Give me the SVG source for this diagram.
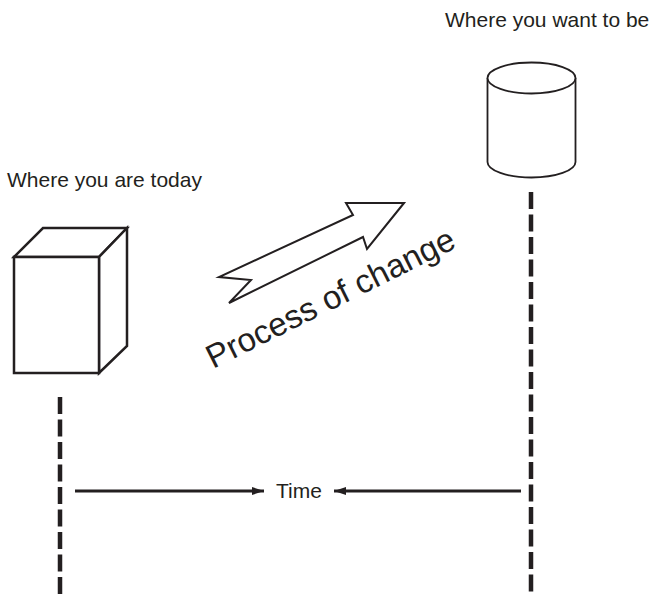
<svg xmlns="http://www.w3.org/2000/svg" width="656" height="597" viewBox="0 0 656 597">
<defs>
<style>
text{font-family:"Liberation Sans",Arial,sans-serif;fill:#231f20}
.lbl{font-size:21px}
.shape{fill:#fff;stroke:#231f20;stroke-linejoin:miter}
.dash{stroke:#231f20;stroke-width:4.5;stroke-dasharray:17 5.5;fill:none}
.arr{stroke:#231f20;stroke-width:3;fill:none}
</style>
<marker id="ah" viewBox="0 0 12 8" refX="12" refY="4" markerWidth="12" markerHeight="8" markerUnits="userSpaceOnUse" orient="auto">
<path d="M0,0 L12,4 L0,8 z" fill="#231f20"/>
</marker>
</defs>
<rect width="656" height="597" fill="#fff"/>
<g id="today">
<polygon class="shape" stroke-width="2.5" points="14,257 43,228 127,228 99,257"/>
<polygon class="shape" stroke-width="2.5" points="99,257 127,228 127,346 99,373"/>
<rect class="shape" stroke-width="2.5" x="14" y="257" width="85" height="116"/>
<text class="lbl" x="7" y="187" font-size="21.5">Where you are today</text>
</g>
<g id="future">
<path class="shape" stroke-width="1.8" d="M487.5,78 L487.5,162 A44,15.5 0 0 0 575.5,162 L575.5,78"/>
<ellipse class="shape" stroke-width="1.8" cx="531.5" cy="78" rx="44" ry="15.5"/>
<text class="lbl" x="445" y="27">Where you want to be</text>
</g>
<g id="change">
<polygon class="shape" stroke-width="2" points="404,203 367,249 363,237 229,303 251,280 219,277 353,215 346,203"/>
<text transform="translate(213,369) rotate(-26.5)" x="0" y="0" font-size="33">Process of change</text>
</g>
<g id="connectors">
<line class="dash" x1="60" y1="397" x2="60" y2="597"/>
<line class="dash" x1="531" y1="192" x2="531" y2="597"/>
<line class="arr" x1="75" y1="491" x2="264" y2="491" marker-end="url(#ah)"/>
<line class="arr" x1="521" y1="491" x2="334" y2="491" marker-end="url(#ah)"/>
</g>
<g id="time">
<text class="lbl" x="276" y="498">Time</text>
</g>
</svg>
